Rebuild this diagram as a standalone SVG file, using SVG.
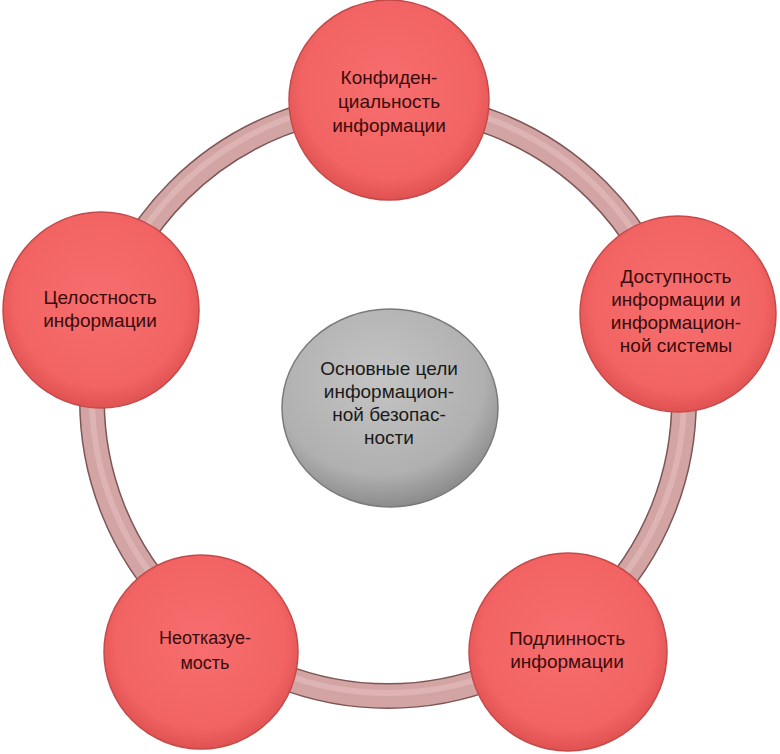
<svg xmlns="http://www.w3.org/2000/svg" width="780" height="754" viewBox="0 0 780 754">
<defs>
<radialGradient id="red" cx="50%" cy="45%" r="55%">
<stop offset="0" stop-color="#f76d6d"/>
<stop offset="0.8" stop-color="#f26464"/>
<stop offset="1" stop-color="#e05252"/>
</radialGradient>
<radialGradient id="gray" cx="45%" cy="35%" r="65%">
<stop offset="0" stop-color="#c4c4c4"/>
<stop offset="0.75" stop-color="#b0b0b0"/>
<stop offset="1" stop-color="#8c8c8c"/>
</radialGradient>
</defs>
<style>
.node circle.r{fill:url(#red);stroke:#c44a4a;stroke-width:1.5}
.node .g{fill:url(#gray);stroke:#7a7a7a;stroke-width:1.5}
text{font-family:"Liberation Sans","DejaVu Sans",sans-serif;font-size:19px;text-anchor:middle}
.rt{fill:#3a0c0c}
.gt{fill:#1a1a1a}
</style>
<rect width="780" height="754" fill="#ffffff"/>
<g id="connectors">
<circle cx="388" cy="400" r="296" fill="none" stroke="#7e5656" stroke-width="26"/>
<circle cx="388" cy="400" r="296" fill="none" stroke="#d3a4a4" stroke-width="23"/>
<circle cx="388" cy="397" r="296" fill="none" stroke="#e8c0c0" stroke-width="6" opacity="0.55"/>
</g>
<g id="node-center" class="node">
<ellipse class="g" cx="390" cy="408" rx="108" ry="99"/>
<text class="gt" x="389" y="375">Основные цели</text>
<text class="gt" x="389" y="398">информацион-</text>
<text class="gt" x="389" y="421">ной безопас-</text>
<text class="gt" x="389" y="444">ности</text>
</g>
<g id="node-top" class="node">
<circle class="r" cx="389" cy="100" r="100"/>
<text class="rt" x="389" y="84">Конфиден-</text>
<text class="rt" x="389" y="108">циальность</text>
<text class="rt" x="389" y="132">информации</text>
</g>
<g id="node-left" class="node">
<circle class="r" cx="101" cy="310" r="98"/>
<text class="rt" x="100" y="304">Целостность</text>
<text class="rt" x="100" y="327">информации</text>
</g>
<g id="node-right" class="node">
<circle class="r" cx="678" cy="314" r="98"/>
<text class="rt" x="676" y="283">Доступность</text>
<text class="rt" x="676" y="306">информации и</text>
<text class="rt" x="676" y="329">информацион-</text>
<text class="rt" x="676" y="352">ной системы</text>
</g>
<g id="node-bottom-left" class="node">
<circle class="r" cx="201" cy="652" r="97"/>
<text class="rt" x="205" y="644" style="font-size:18px">Неотказуе-</text>
<text class="rt" x="205" y="669" style="font-size:18px">мость</text>
</g>
<g id="node-bottom-right" class="node">
<circle class="r" cx="568" cy="652" r="99"/>
<text class="rt" x="567" y="645">Подлинность</text>
<text class="rt" x="567" y="668">информации</text>
</g>
</svg>
